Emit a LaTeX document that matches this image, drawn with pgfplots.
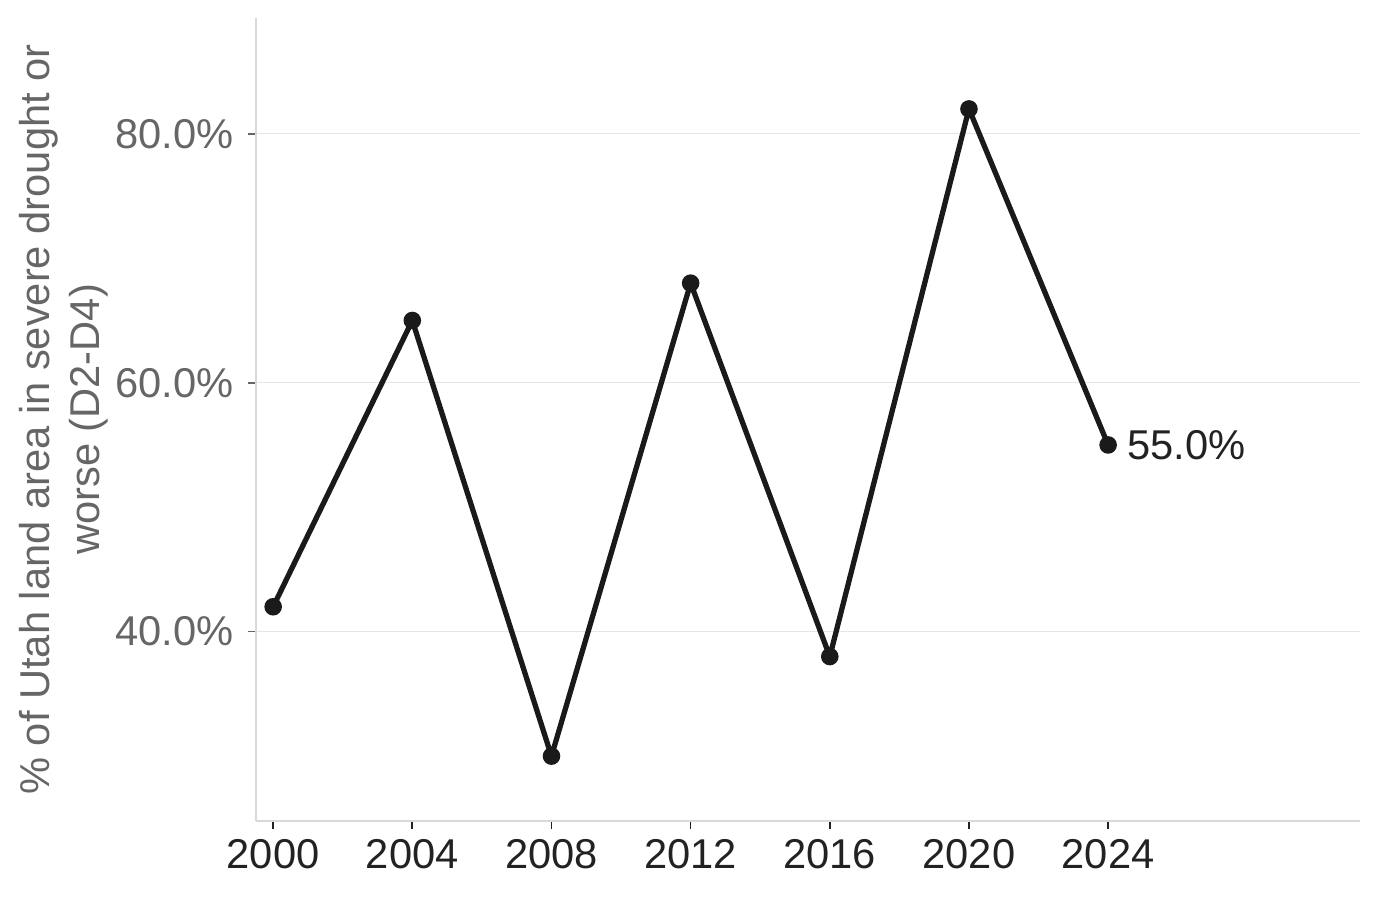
\documentclass[border=0pt]{standalone}
\usepackage{fontspec}
\setmainfont{Liberation Sans}
\usepackage{pgfplots}
\pgfplotsset{compat=1.18}

\definecolor{linec}{HTML}{1A1A1A}
\definecolor{gridc}{HTML}{E6E6E6}
\definecolor{spinec}{HTML}{D9D9D9}
\definecolor{graytxt}{HTML}{666666}
\definecolor{darktxt}{HTML}{222222}

\newcommand{\lbl}{\fontsize{15}{18}\selectfont}

\begin{document}
\begin{tikzpicture}
\begin{axis}[
    scale only axis,
    width=397.4pt, height=289pt,
    xmin=1999.51, xmax=2031.24,
    ymin=24.8, ymax=89.3,
    axis x line*=bottom, axis y line*=left,
    axis line style={-, color=spinec, line width=0.6pt},
    xtick={2000,2004,...,2024},
    ytick={40,60,80},
    yticklabels={40.0\%,60.0\%,80.0\%},
    /pgf/number format/1000 sep={},
    /pgf/number format/assume math mode=true,
    tick align=outside,
    major tick length=3pt,
    x tick style={color=darktxt, line width=0.6pt},
    y tick style={color=graytxt, line width=0.6pt},
    x tick label style={color=darktxt, font=\lbl},
    y tick label style={color=graytxt, font=\lbl, xshift=-1.5pt},
    ymajorgrids,
    major grid style={color=gridc, line width=0.5pt},
    ylabel={\% of Utah land area in severe drought or\\worse (D2-D4)},
    ylabel style={at={(axis description cs:-0.1744,0.5)}, anchor=center,
        align=center, color=graytxt, font=\lbl},
    clip=false,
]
\addplot[color=linec, line width=1.9pt, mark=*, mark size=2.2pt,
    mark options={solid, fill=linec, draw=linec}] coordinates {
    (2000,42) (2004,65) (2008,30) (2012,68) (2016,38) (2020,82) (2024,55)
};
\node[anchor=west, inner sep=0pt, xshift=6.8pt, color=darktxt, font=\lbl]
    at (axis cs:2024,55) {55.0\%};
\end{axis}
\pgfresetboundingbox
\path[use as bounding box] ([shift={(-92.2pt,-28.1pt)}]current axis.south west)
    rectangle ([shift={(7.2pt,6.5pt)}]current axis.north east);
\end{tikzpicture}
\end{document}
